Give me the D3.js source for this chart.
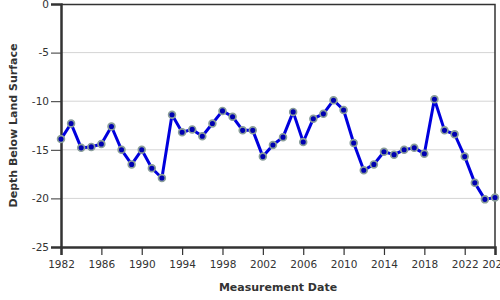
<!DOCTYPE html>
<html>
<head>
<meta charset="utf-8">
<script src="https://cdn.jsdelivr.net/npm/d3@7"></script>
<style>
  html, body { margin: 0; padding: 0; background: #fff; }
  svg { display: block; font-family: "DejaVu Sans", Verdana, sans-serif; }
</style>
</head>
<body>
<svg id="chart" width="500" height="300"></svg>
<script>
// ---- data ----
const years = [1982,1983,1984,1985,1986,1987,1988,1989,1990,1991,1992,1993,1994,1995,1996,1997,1998,1999,2000,2001,2002,2003,2004,2005,2006,2007,2008,2009,2010,2011,2012,2013,2014,2015,2016,2017,2018,2019,2020,2021,2022,2023,2024,2025];
const depths = [-13.9,-12.3,-14.8,-14.7,-14.4,-12.6,-15.0,-16.5,-15.0,-16.9,-17.9,-11.4,-13.2,-12.9,-13.6,-12.3,-11.0,-11.6,-13.0,-13.0,-15.7,-14.5,-13.7,-11.1,-14.2,-11.8,-11.3,-9.9,-10.9,-14.3,-17.1,-16.5,-15.2,-15.5,-15.0,-14.8,-15.4,-9.8,-13.0,-13.4,-15.7,-18.4,-20.1,-19.9];
const yTicks = [0,-5,-10,-15,-20,-25];
const xTickYears = [1982,1986,1990,1994,1998,2002,2006,2010,2014,2018,2022,2025];
const xTitle = "Measurement Date";
const yTitle = "Depth Below Land Surface";

// ---- layout ----
const W = 500, H = 300;
const m = {left: 61, right: 5, top: 4, bottom: 53};
const iw = W - m.left - m.right, ih = H - m.top - m.bottom;

const svg = d3.select("#chart");
const g = svg.append("g").attr("transform", `translate(${m.left},${m.top})`);

const data = years.map((y, i) => ({date: new Date(Date.UTC(y, 0, 1)), v: depths[i]}));

const x = d3.scaleUtc()
  .domain([new Date(Date.UTC(years[0],0,1)), new Date(Date.UTC(years[years.length-1],0,1))])
  .range([0, iw]);
const y = d3.scaleLinear().domain([-25, 0]).range([ih, 0]);

// gridlines
g.append("g").selectAll("line").data(yTicks.filter(t => t !== 0 && t !== -25)).join("line")
  .attr("x1", 0).attr("x2", iw)
  .attr("y1", d => y(d)).attr("y2", d => y(d))
  .attr("stroke", "#d4d4d4").attr("stroke-width", 1);

// top & right border
g.append("path")
  .attr("d", `M0,0.5H${iw}V${ih}`)
  .attr("fill", "none").attr("stroke", "#333").attr("stroke-width", 1.5);

// y axis
const ya = g.append("g")
  .call(d3.axisLeft(y).tickValues(yTicks).tickSize(10).tickPadding(2).tickFormat(d => String(d)));
ya.select(".domain").attr("stroke", "#333").attr("stroke-width", 2.5);
ya.selectAll(".tick line").attr("stroke", "#333").attr("stroke-width", 1);
ya.selectAll(".tick text").attr("fill", "#333").style("font-size", "10.5px").style("font-family", "DejaVu Sans");

// x axis
const xa = g.append("g").attr("transform", `translate(0,${ih})`)
  .call(d3.axisBottom(x).tickValues(xTickYears.map(t => new Date(Date.UTC(t,0,1)))).tickSize(8).tickPadding(6).tickFormat(d3.utcFormat("%Y")));
xa.select(".domain").attr("stroke", "#333").attr("stroke-width", 2.5);
xa.selectAll(".tick line").attr("stroke", "#333").attr("stroke-width", 1.2);
xa.selectAll(".tick text").attr("fill", "#333").style("font-size", "10.5px").style("font-family", "DejaVu Sans");

// line
g.append("path").datum(data)
  .attr("fill", "none").attr("stroke", "#0000dd").attr("stroke-width", 3)
  .attr("stroke-linejoin", "round")
  .attr("d", d3.line().x(d => x(d.date)).y(d => y(d.v)));

// points
g.append("g").selectAll("circle").data(data).join("circle")
  .attr("cx", d => x(d.date)).attr("cy", d => y(d.v)).attr("r", 3.4)
  .attr("fill", "#0000b0").attr("stroke", "#8a9e9a").attr("stroke-width", 1.7);

// titles
svg.append("text")
  .attr("x", m.left + iw / 2).attr("y", 291)
  .attr("text-anchor", "middle").attr("fill", "#333")
  .style("font-size", "11px").style("font-weight", "bold")
  .text(xTitle);
svg.append("text")
  .attr("transform", `translate(17,${m.top + ih / 2}) rotate(-90)`)
  .attr("text-anchor", "middle").attr("fill", "#333")
  .style("font-size", "11px").style("font-weight", "bold")
  .text(yTitle);
</script>
</body>
</html>
